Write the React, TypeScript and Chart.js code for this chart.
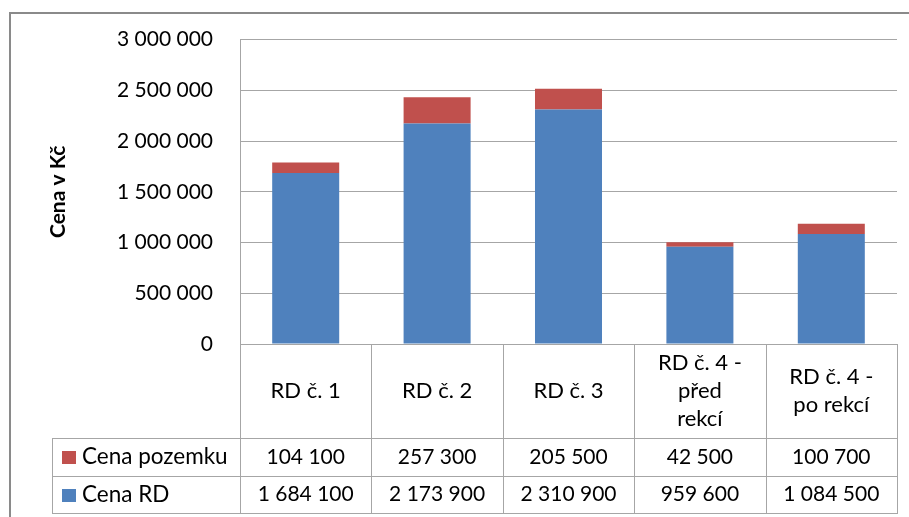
import React, { useEffect, useRef } from "react";
import { Chart, registerables } from "chart.js";

Chart.register(...registerables);

const categories: string[][] = [
  ["RD č. 1"],
  ["RD č. 2"],
  ["RD č. 3"],
  ["RD č. 4 -", "před", "rekcí"],
  ["RD č. 4 -", "po rekcí"],
];
const cenaPozemku: number[] = [104100, 257300, 205500, 42500, 100700];
const cenaRD: number[] = [1684100, 2173900, 2310900, 959600, 1084500];
const yTicks: number[] = [0, 500000, 1000000, 1500000, 2000000, 2500000, 3000000];

const BLUE = "#4F81BD";
const RED = "#C0504D";
const GRID = "#A6A6A6";
const FONT = "Lato";

const fmt = (n: number) => String(n).replace(/\B(?=(\d{3})+(?!\d))/g, " ");

const tablePlugin = {
  id: "dataTable",
  afterDraw(chart: any) {
    const ctx = chart.ctx as CanvasRenderingContext2D;
    const area = chart.chartArea;
    const ys = chart.scales.y;
    const n = categories.length;
    const colW = (area.right - area.left) / n;
    const top = Math.round(ys.getPixelForValue(0));
    const catBottom = top + 94;
    const row1Bottom = catBottom + 38;
    const row2Bottom = row1Bottom + 37;
    const tableLeft = 52;

    ctx.save();
    // outer frame
    ctx.strokeStyle = "#8A8A8A";
    ctx.lineWidth = 2;
    ctx.strokeRect(10, 13, 940, 560);

    ctx.strokeStyle = GRID;
    ctx.lineWidth = 1;
    ctx.beginPath();
    for (let i = 0; i <= n; i++) {
      const x = Math.round(area.left + i * colW) + 0.5;
      ctx.moveTo(x, top);
      ctx.lineTo(x, row2Bottom);
    }
    ctx.moveTo(tableLeft + 0.5, catBottom);
    ctx.lineTo(tableLeft + 0.5, row2Bottom);
    for (const y of [catBottom, row1Bottom, row2Bottom]) {
      ctx.moveTo(tableLeft, y + 0.5);
      ctx.lineTo(Math.round(area.right) + 1, y + 0.5);
    }
    ctx.stroke();

    ctx.fillStyle = "#000";
    ctx.textAlign = "center";
    ctx.textBaseline = "middle";
    const lh = 28;
    categories.forEach((lines, i) => {
      const cx = area.left + (i + 0.5) * colW;
      const cy = (top + catBottom) / 2;
      const startY = cy - ((lines.length - 1) * lh) / 2;
      ctx.font = `22px ${FONT}`;
      lines.forEach((l, j) => ctx.fillText(l, cx, startY + j * lh));
      ctx.font = `21px ${FONT}`;
      ctx.fillText(fmt(cenaPozemku[i]), cx, (catBottom + row1Bottom) / 2);
      ctx.fillText(fmt(cenaRD[i]), cx, (row1Bottom + row2Bottom) / 2);
    });

    // legend keys
    ctx.textAlign = "left";
    ctx.font = `22.5px ${FONT}`;
    const rows = [
      { label: "Cena pozemku", color: RED, y: (catBottom + row1Bottom) / 2 },
      { label: "Cena RD", color: BLUE, y: (row1Bottom + row2Bottom) / 2 },
    ];
    rows.forEach((r) => {
      ctx.fillStyle = r.color;
      ctx.fillRect(62, Math.round(r.y - 6), 14, 13);
      ctx.fillStyle = "#000";
      ctx.fillText(r.label, 82, r.y);
    });
    ctx.restore();
  },
};

export default function App() {
  const ref = useRef<HTMLCanvasElement | null>(null);
  useEffect(() => {
    if (!ref.current) return;
    const chart = new Chart(ref.current, {
      type: "bar",
      data: {
        labels: categories.map((c) => c.join(" ")),
        datasets: [
          {
            label: "Cena RD",
            data: cenaRD,
            backgroundColor: BLUE,
            categoryPercentage: 1,
            barPercentage: 0.51,
          },
          {
            label: "Cena pozemku",
            data: cenaPozemku,
            backgroundColor: RED,
            categoryPercentage: 1,
            barPercentage: 0.51,
          },
        ],
      },
      options: {
        animation: false,
        responsive: false,
        devicePixelRatio: 1,
        layout: { padding: { left: 46, top: 39, right: 12, bottom: 173 } },
        plugins: {
          legend: { display: false },
          tooltip: { enabled: false },
        },
        scales: {
          x: {
            stacked: true,
            display: false,
          },
          y: {
            stacked: true,
            min: yTicks[0],
            max: yTicks[yTicks.length - 1],
            afterBuildTicks: (s: any) => {
              s.ticks = yTicks.map((v) => ({ value: v }));
            },
            afterFit: (s: any) => {
              s.width = 194;
            },
            ticks: {
              padding: 27,
              color: "#000",
              font: { family: FONT, size: 21 },
              callback: (v: any) => fmt(Number(v)),
            },
            grid: { color: GRID, drawTicks: false },
            border: { display: true, color: GRID },
            title: {
              display: true,
              text: "Cena v Kč",
              color: "#000",
              font: { family: FONT, size: 21, weight: "bold" },
              padding: 0,
            },
          },
        },
      },
      plugins: [tablePlugin],
    });
    return () => chart.destroy();
  }, []);
  return (
    <div style={{ position: "fixed", left: 0, top: 0, width: 909, height: 517, background: "#fff" }}>
      <canvas ref={ref} width={909} height={517} style={{ display: "block" }} />
    </div>
  );
}
